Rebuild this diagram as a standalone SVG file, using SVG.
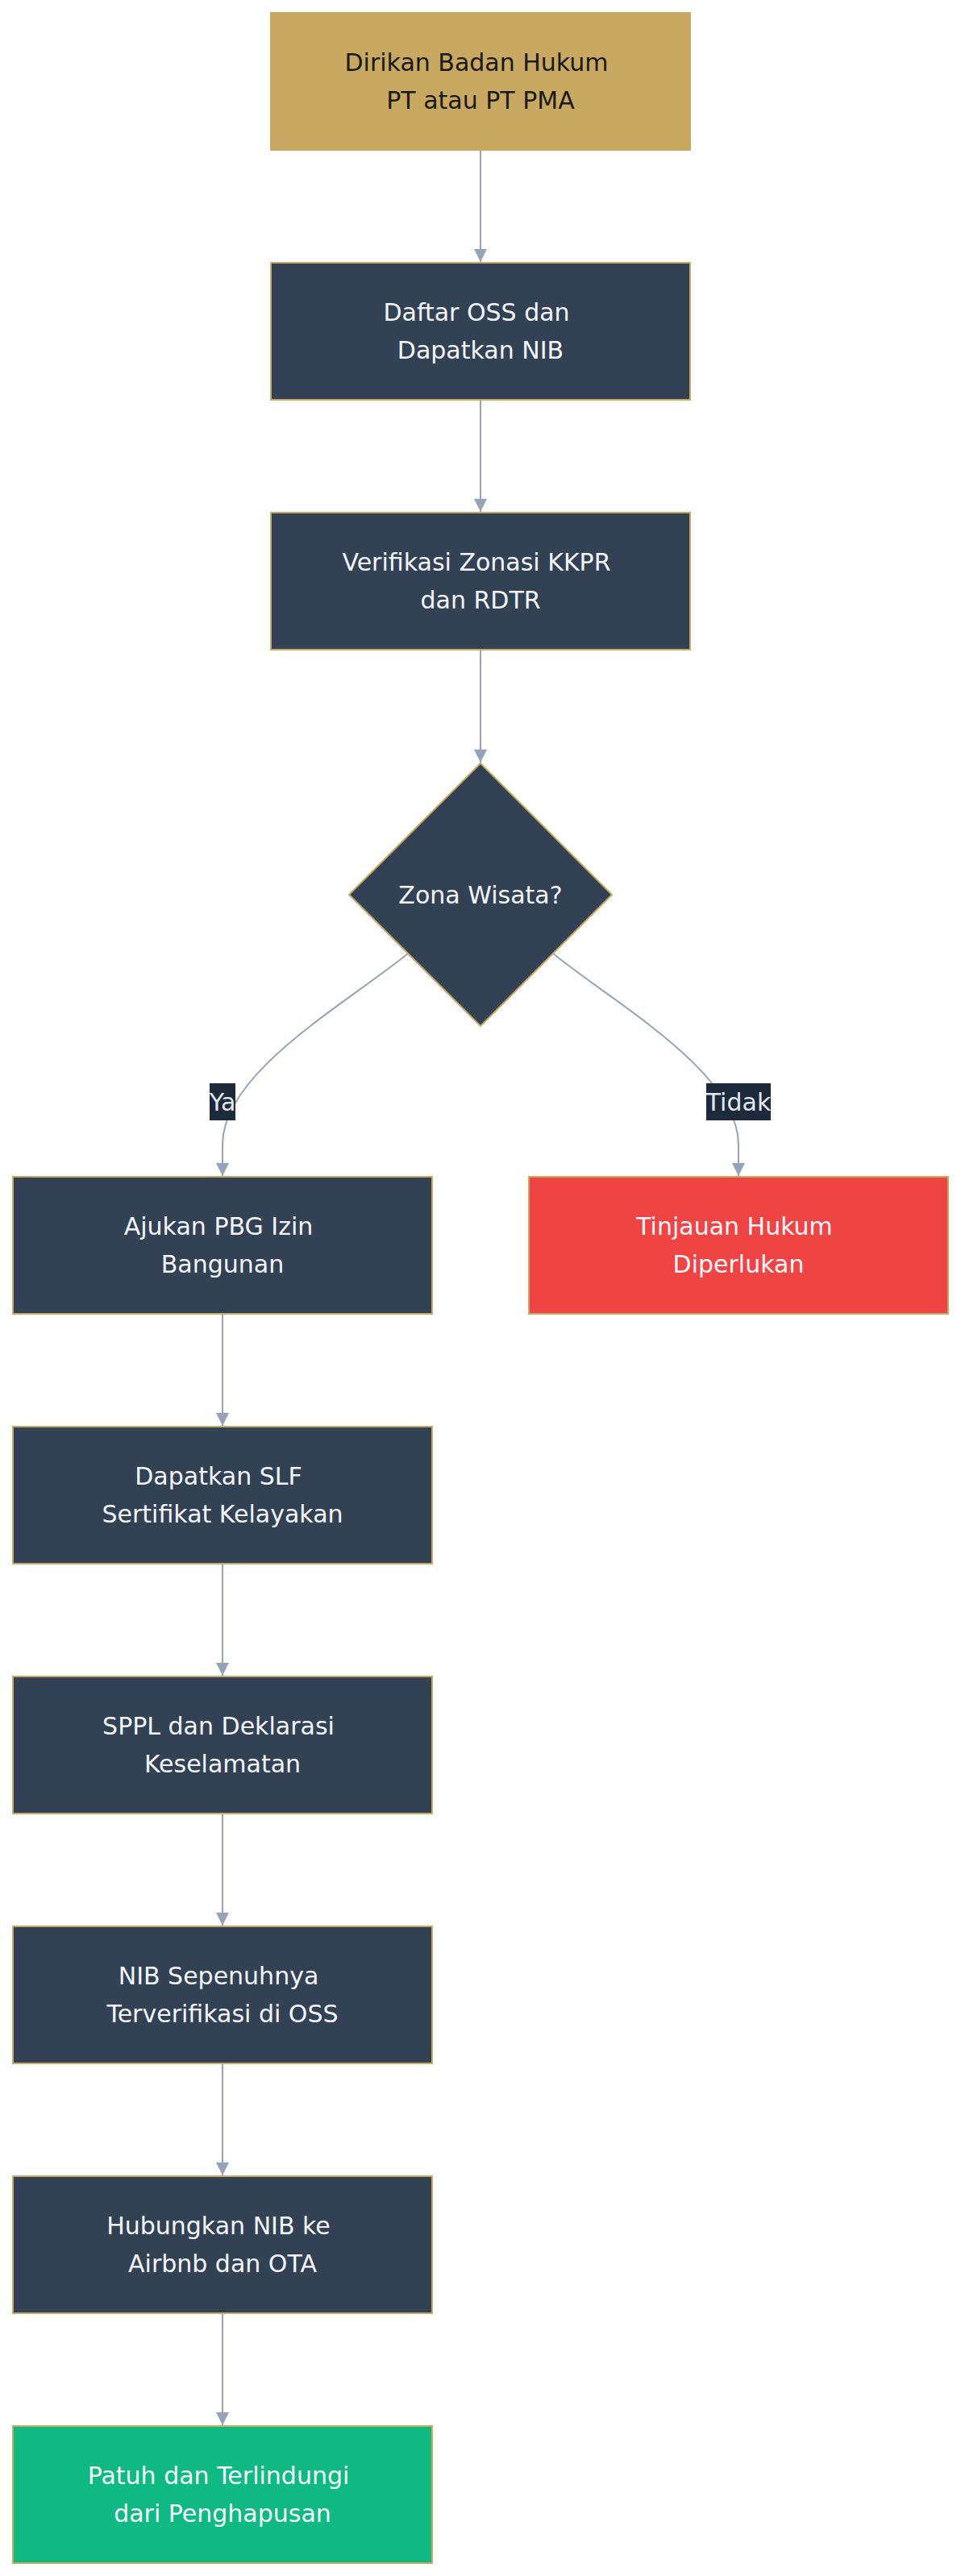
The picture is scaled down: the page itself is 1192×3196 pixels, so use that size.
<svg xmlns="http://www.w3.org/2000/svg" width="1192" height="3196" viewBox="0 0 1192 3196">
<style>
.bg{fill:#ffffff}
.n rect,.n polygon{stroke:#C9A862;stroke-width:2}
.dark{fill:#334155}
.gold{fill:#C9A862}
.red{fill:#EF4444}
.green{fill:#10B981}
text{font-family:"DejaVu Sans","Noto Sans",sans-serif;font-size:30px;text-anchor:middle}
.lt{fill:#F1F5F9}
.dk{fill:#1a1a1a}
.e{fill:none;stroke:#94A3B8;stroke-width:2}
.lbl rect{fill:#1E293B}
.lbl text{fill:#E2E8F0}
</style>
<defs>
<marker id="ah" viewBox="0 0 10 10" refX="10" refY="5" markerWidth="16" markerHeight="16" markerUnits="userSpaceOnUse" orient="auto">
<path d="M0,0 L10,5 L0,10 z" fill="#94A3B8"/>
</marker>
</defs>
<rect class="bg" x="0" y="0" width="1192" height="3196"/>
<g id="edges">
<path class="e" d="M596,187 L596,325" marker-end="url(#ah)"/>
<path class="e" d="M596,497 L596,635" marker-end="url(#ah)"/>
<path class="e" d="M596,807 L596,946" marker-end="url(#ah)"/>
<path class="e" d="M506,1183 C430,1245 276,1330 276,1420 L276,1459" marker-end="url(#ah)"/>
<path class="e" d="M686,1183 C762,1245 916,1330 916,1420 L916,1459" marker-end="url(#ah)"/>
<path class="e" d="M276,1631 L276,1769" marker-end="url(#ah)"/>
<path class="e" d="M276,1941 L276,2079" marker-end="url(#ah)"/>
<path class="e" d="M276,2251 L276,2389" marker-end="url(#ah)"/>
<path class="e" d="M276,2561 L276,2699" marker-end="url(#ah)"/>
<path class="e" d="M276,2871 L276,3009" marker-end="url(#ah)"/>
<g class="lbl" id="lbl-ya"><rect x="260" y="1344" width="32" height="46"/><text x="276" y="1378">Ya</text></g>
<g class="lbl" id="lbl-tidak"><rect x="876" y="1344" width="80" height="46"/><text x="916" y="1378">Tidak</text></g>
</g>
<g id="n1" class="n"><rect class="gold" x="336" y="16" width="520" height="170"/><text class="dk" x="591" y="88">Dirikan Badan Hukum</text><text class="dk" x="596" y="135">PT atau PT PMA</text></g>
<g id="n2" class="n"><rect class="dark" x="336" y="326" width="520" height="170"/><text class="lt" x="591" y="398">Daftar OSS dan</text><text class="lt" x="596" y="445">Dapatkan NIB</text></g>
<g id="n3" class="n"><rect class="dark" x="336" y="636" width="520" height="170"/><text class="lt" x="591" y="708">Verifikasi Zonasi KKPR</text><text class="lt" x="596" y="755">dan RDTR</text></g>
<g id="d1" class="n"><polygon class="dark" points="596,947 759,1110 596,1273 433,1110"/><text class="lt" x="596" y="1121">Zona Wisata?</text></g>
<g id="n4" class="n"><rect class="dark" x="16" y="1460" width="520" height="170"/><text class="lt" x="271" y="1532">Ajukan PBG Izin</text><text class="lt" x="276" y="1579">Bangunan</text></g>
<g id="n5" class="n"><rect class="red" x="656" y="1460" width="520" height="170"/><text class="lt" x="911" y="1532">Tinjauan Hukum</text><text class="lt" x="916" y="1579">Diperlukan</text></g>
<g id="n6" class="n"><rect class="dark" x="16" y="1770" width="520" height="170"/><text class="lt" x="271" y="1842">Dapatkan SLF</text><text class="lt" x="276" y="1889">Sertifikat Kelayakan</text></g>
<g id="n7" class="n"><rect class="dark" x="16" y="2080" width="520" height="170"/><text class="lt" x="271" y="2152">SPPL dan Deklarasi</text><text class="lt" x="276" y="2199">Keselamatan</text></g>
<g id="n8" class="n"><rect class="dark" x="16" y="2390" width="520" height="170"/><text class="lt" x="271" y="2462">NIB Sepenuhnya</text><text class="lt" x="276" y="2509">Terverifikasi di OSS</text></g>
<g id="n9" class="n"><rect class="dark" x="16" y="2700" width="520" height="170"/><text class="lt" x="271" y="2772">Hubungkan NIB ke</text><text class="lt" x="276" y="2819">Airbnb dan OTA</text></g>
<g id="n10" class="n"><rect class="green" x="16" y="3010" width="520" height="170"/><text class="lt" x="271" y="3082">Patuh dan Terlindungi</text><text class="lt" x="276" y="3129">dari Penghapusan</text></g>
</svg>
